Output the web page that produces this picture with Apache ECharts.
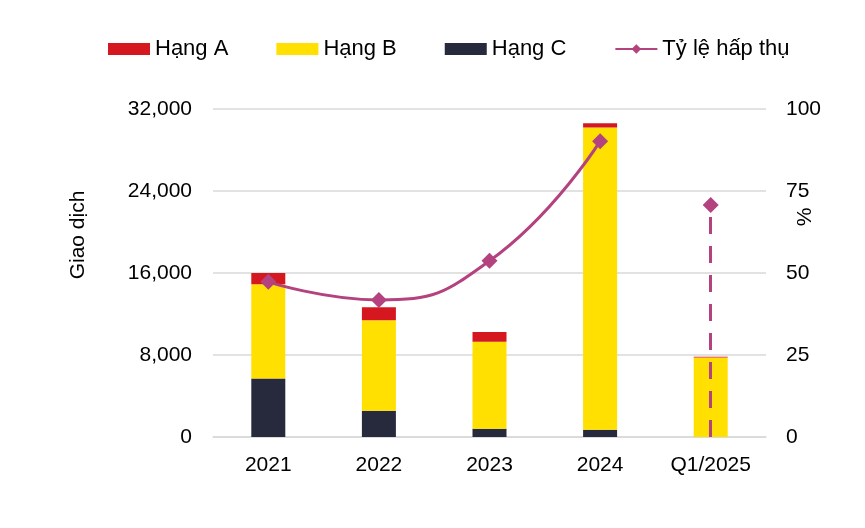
<!DOCTYPE html>
<html>
<head>
<meta charset="utf-8">
<script src="https://cdn.jsdelivr.net/npm/echarts@6/dist/echarts.min.js"></script>
<style>
html,body{margin:0;padding:0;background:#fff;}
#chart{width:865px;height:528px;}
</style>
</head>
<body>
<div id="chart"></div>
<script>
const categories = ['2021', '2022', '2023', '2024', 'Q1/2025'];
const hangA = [1100, 1250, 950, 400, 80];
const hangB = [9200, 8850, 8500, 29500, 7750];
const hangC = [5700, 2550, 800, 700, 0];
const tyLe = [47.3, 41.8, 53.7, 90.2, null];
const tyLeQ1 = [null, null, null, null, 70.7];
const leftTicks = { min: 0, max: 32000, interval: 8000 };
const rightTicks = { min: 0, max: 100, interval: 25 };

const FONT = 'Liberation Sans, Arial, sans-serif';
const FS = 21;
const chart = echarts.init(document.getElementById('chart'));
chart.setOption({
  animation: false,
  textStyle: { fontFamily: FONT },
  legend: {
    top: 33,
    left: 103,
    itemWidth: 42,
    itemHeight: 12,
    itemGap: 48,
    textStyle: { fontSize: 22, color: '#000', fontFamily: FONT },
    data: [
      { name: 'Hạng A', icon: 'rect' },
      { name: 'Hạng B', icon: 'rect' },
      { name: 'Hạng C', icon: 'rect' },
      { name: 'Tỷ lệ hấp thụ' }
    ]
  },
  grid: { left: 213, right: 99, top: 109, bottom: 91 },
  xAxis: {
    type: 'category',
    data: categories,
    axisTick: { show: false },
    axisLine: { show: true, lineStyle: { color: '#d9d9d9', width: 1.5 } },
    axisLabel: { fontSize: FS, color: '#000', margin: 18, fontFamily: FONT }
  },
  yAxis: [
    {
      type: 'value',
      min: leftTicks.min, max: leftTicks.max, interval: leftTicks.interval,
      axisLine: { show: false }, axisTick: { show: false },
      splitLine: { lineStyle: { color: '#d9d9d9', width: 1.5 } },
      axisLabel: {
        fontSize: FS, color: '#000', margin: 21, fontFamily: FONT,
        formatter: v => v.toLocaleString('en-US')
      }
    },
    {
      type: 'value',
      min: rightTicks.min, max: rightTicks.max, interval: rightTicks.interval,
      axisLine: { show: false }, axisTick: { show: false },
      splitLine: { show: false },
      axisLabel: { fontSize: FS, color: '#000', margin: 20, fontFamily: FONT }
    }
  ],
  graphic: [
    {
      type: 'text', rotation: Math.PI / 2, x: 78, y: 235,
      style: { text: 'Giao dịch', fontSize: FS, fill: '#000', fontFamily: FONT, align: 'center', verticalAlign: 'middle' }
    },
    {
      type: 'text', rotation: Math.PI / 2, x: 805, y: 217,
      style: { text: '%', fontSize: FS, fill: '#000', fontFamily: FONT, align: 'center', verticalAlign: 'middle' }
    }
  ],
  series: [
    {
      name: 'Hạng C', type: 'bar', stack: 'total', data: hangC, barWidth: 34,
      itemStyle: { color: '#272a3d' }
    },
    {
      name: 'Hạng B', type: 'bar', stack: 'total', data: hangB, barWidth: 34,
      itemStyle: { color: '#ffe000' }
    },
    {
      name: 'Hạng A', type: 'bar', stack: 'total', data: hangA, barWidth: 34,
      itemStyle: { color: '#d5181f' }
    },
    {
      name: 'Tỷ lệ hấp thụ', type: 'line', yAxisIndex: 1, data: tyLe,
      smooth: 0.5, symbol: 'diamond', symbolSize: 16, z: 5,
      lineStyle: { color: '#b3427f', width: 3 },
      itemStyle: { color: '#b3427f' }
    },
    {
      name: 'Tỷ lệ hấp thụ', type: 'line', yAxisIndex: 1, data: tyLeQ1,
      symbol: 'diamond', symbolSize: 16, z: 5,
      lineStyle: { color: '#b3427f', width: 3 },
      itemStyle: { color: '#b3427f' },
      markLine: {
        symbol: ['none', 'none'], silent: true, label: { show: false },
        lineStyle: { color: '#b3427f', width: 3, type: [17, 12] },
        data: [[
          { coord: [categories[4], rightTicks.min] },
          { coord: [categories[4], tyLeQ1[4]] }
        ]]
      }
    }
  ]
});
</script>
</body>
</html>
